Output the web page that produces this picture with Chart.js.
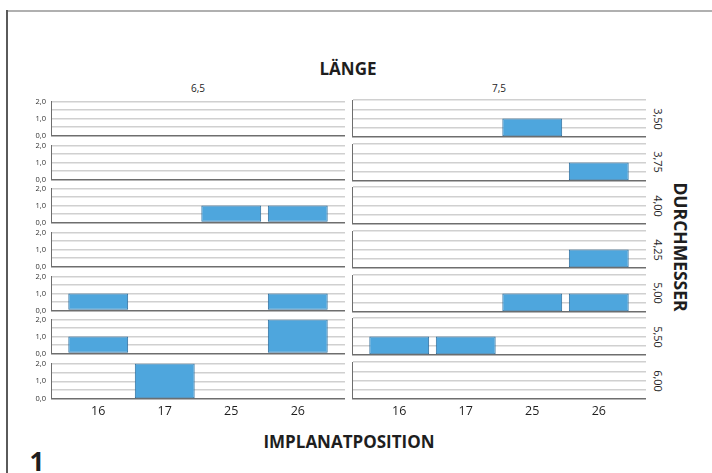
<!DOCTYPE html>
<html lang="de">
<head>
<meta charset="utf-8">
<title>Implantatposition nach Länge und Durchmesser</title>
<script src="https://cdn.jsdelivr.net/npm/chart.js@4/dist/chart.umd.min.js"></script>
<style>
  html, body { margin: 0; padding: 0; background: #fff; }
  #wrap { position: relative; width: 712px; height: 473px; overflow: hidden; font-family: "Open Sans", "DejaVu Sans", sans-serif; color: #1e1e1e; }
  .frame-top { position: absolute; left: 7px; top: 10px; width: 705px; height: 2px; background: #b0b0b0; }
  .frame-left { position: absolute; left: 6px; top: 10px; width: 2px; height: 463px; background: #5a5a5a; }
  .txt { position: absolute; white-space: nowrap; line-height: 1; }
  .center { transform: translate(-50%, -50%); }
  .rot { transform: translate(-50%, -50%) rotate(90deg); }
  canvas { position: absolute; }
</style>
</head>
<body>
<div id="wrap">
  <div class="frame-top"></div>
  <div class="frame-left"></div>
</div>
<script>
// Implantatpositionen (x-Kategorien)
const positions = ['16', '17', '25', '26'];
// Implantatlängen (Spalten)
const laengen = ['6,5', '7,5'];
// Implantatdurchmesser (Zeilen)
const durchmesser = ['3,50', '3,75', '4,00', '4,25', '5,00', '5,50', '6,00'];
// y-Achsenbeschriftungen
const yTickLabels = ['0,0', '1,0', '2,0'];

// Anzahl je Position, Länge 6,5 (eine Zeile je Durchmesser)
const anzahl65 = [
  [null, null, null, null],
  [null, null, null, null],
  [null, null, 1, 1],
  [null, null, null, null],
  [1, null, null, 1],
  [1, null, null, 2],
  [null, 2, null, null]
];
// Anzahl je Position, Länge 7,5
const anzahl75 = [
  [null, null, 1, null],
  [null, null, null, 1],
  [null, null, null, null],
  [null, null, null, 1],
  [null, null, 1, 1],
  [1, 1, null, null],
  [null, null, null, null]
];

const panelData = [anzahl65, anzahl75];

const wrap = document.getElementById('wrap');
const FONT = '"Open Sans", "DejaVu Sans", sans-serif';

function addText(text, x, y, cls, style) {
  const d = document.createElement('div');
  d.className = 'txt ' + cls;
  d.textContent = text;
  d.style.left = x + 'px';
  d.style.top = y + 'px';
  Object.assign(d.style, style || {});
  wrap.appendChild(d);
}

// Panel geometry
const rowTop0 = 100, rowPitch = 43.67, rowHeight = 37, padTop = 8, padBottom = 8;
const cols = [
  { canvasLeft: 0, canvasWidth: 345, axisWidth: 51, center: 198 },
  { canvasLeft: 346, canvasWidth: 300, axisWidth: 6, center: 499 }
];

// Headings
addText('LÄNGE', 348, 68, 'center', { fontWeight: '700', fontSize: '17px' });
laengen.forEach((l, c) => addText(l, cols[c].center, 88, 'center', { fontSize: '10px' }));
addText('DURCHMESSER', 680, 247, 'rot', { fontWeight: '700', fontSize: '17.5px' });
addText('IMPLANATPOSITION', 349, 441, 'center', { fontWeight: '700', fontSize: '17px' });
addText('1', 37, 461, 'center', { fontWeight: '700', fontSize: '26px' });

durchmesser.forEach((d, r) => {
  const top = rowTop0 + r * rowPitch;
  addText(d, 658, top + rowHeight / 2, 'rot', { fontSize: '11px' });
});

durchmesser.forEach((d, r) => {
  const isBottom = r === durchmesser.length - 1;
  laengen.forEach((l, c) => {
    const col = cols[c];
    const isLeft = c === 0;
    const top = rowTop0 + r * rowPitch;
    const xAxisH = isBottom ? 30 : 0;
    const h = padTop + rowHeight + (isBottom ? xAxisH : padBottom);

    const cv = document.createElement('canvas');
    cv.width = col.canvasWidth;
    cv.height = Math.round(h);
    cv.style.left = col.canvasLeft + 'px';
    cv.style.top = (top - padTop) + 'px';
    cv.style.width = col.canvasWidth + 'px';
    cv.style.height = Math.round(h) + 'px';
    wrap.appendChild(cv);

    const values = panelData[c][r];

    new Chart(cv, {
      type: 'bar',
      data: {
        datasets: [{
          data: values.map((v, i) => ({ x: i, y: v })),
          backgroundColor: '#4ea6dd',
          borderColor: '#2c6d9c',
          borderWidth: 1,
          borderSkipped: false,
          barPercentage: 0.9,
          categoryPercentage: 1
        }]
      },
      options: {
        responsive: false,
        animation: false,
        devicePixelRatio: 1,
        layout: { padding: { top: padTop, bottom: isBottom ? 0 : padBottom, left: 0, right: 0 } },
        plugins: { legend: { display: false }, tooltip: { enabled: false } },
        scales: {
          x: {
            type: 'linear',
            offset: false,
            bounds: 'data',
            min: -0.71,
            max: 3.71,
            display: isBottom,
            afterBuildTicks: a => { a.ticks = positions.map((_, i) => ({ value: i })); },
            afterFit: a => { a.height = xAxisH; },
            ticks: {
              callback: v => positions[v],
              font: { family: FONT, size: 12.5 },
              color: '#1e1e1e',
              padding: 5,
              maxRotation: 0,
              autoSkip: false
            },
            grid: { display: false, drawTicks: false, offset: false },
            border: { display: false }
          },
          y: {
            min: 0,
            max: 2,
            afterFit: a => { a.width = col.axisWidth; },
            ticks: {
              stepSize: 0.5,
              autoSkip: false,
              display: isLeft,
              callback: v => Number.isInteger(v) ? yTickLabels[v] : '',
              font: { family: FONT, size: 7.5 },
              color: '#333',
              padding: 5
            },
            grid: {
              color: ctx => ctx.tick && ctx.tick.value === 0 ? '#6e6e6e' : '#d0d0d0',
              lineWidth: 1.5,
              drawTicks: false
            },
            border: { display: true, color: '#6e6e6e', width: 1 }
          }
        }
      }
    });
  });
});
</script>
</body>
</html>
